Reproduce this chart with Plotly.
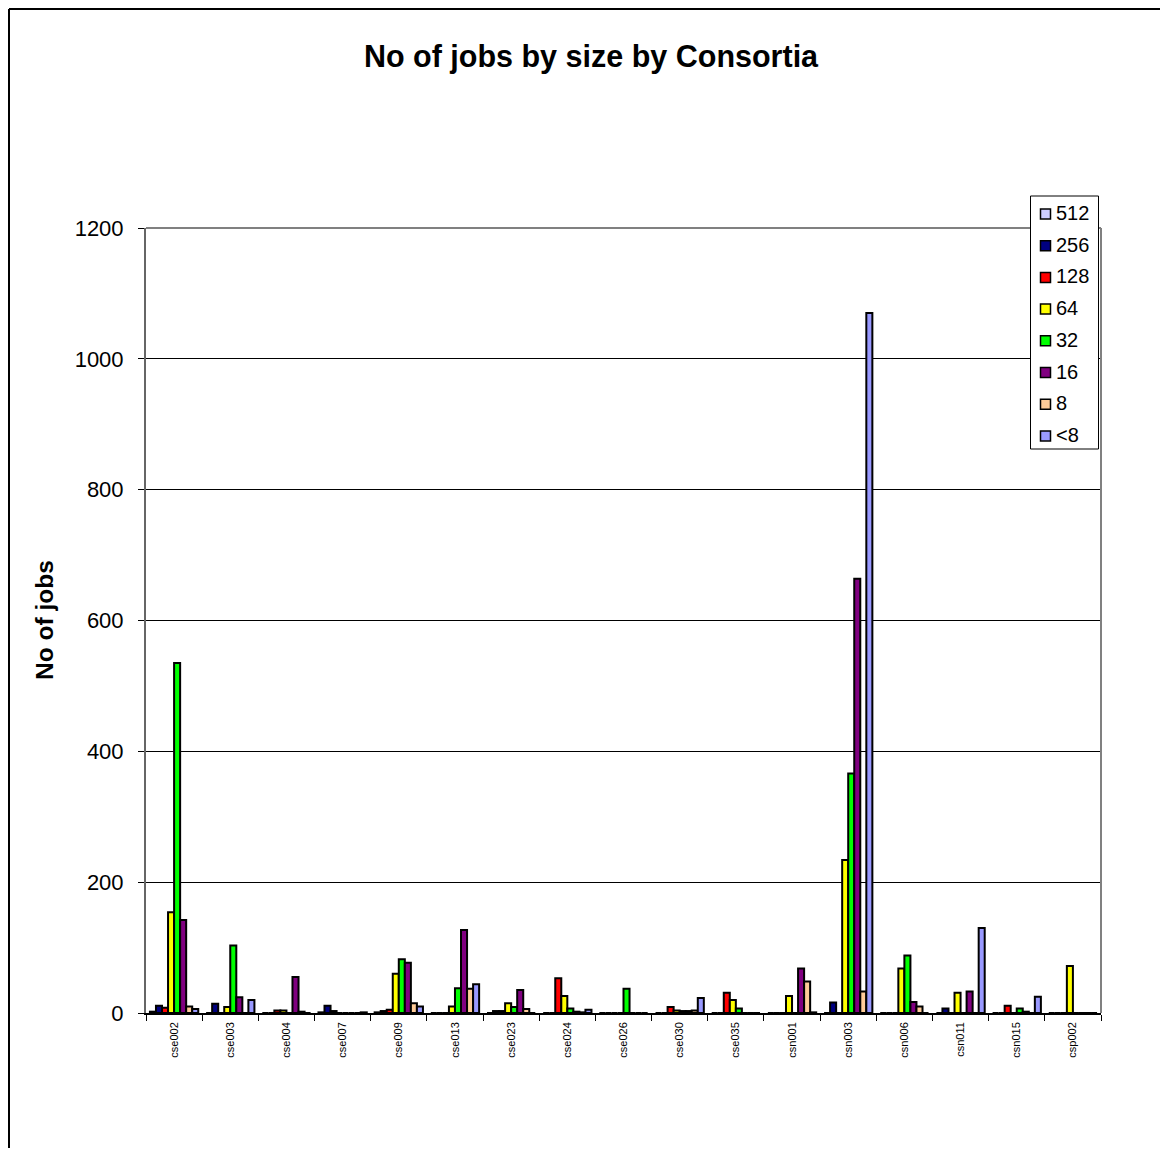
import plotly.graph_objects as go

categories = ["cse002", "cse003", "cse004", "cse007", "cse009", "cse013", "cse023",
              "cse024", "cse026", "cse030", "cse035", "csn001", "csn003", "csn006",
              "csn011", "csn015", "csp002"]

series_names = ["512", "256", "128", "64", "32", "16", "8", "<8"]

s512 = [2, 0, 0, 1, 1, 0, 0, 0, 0, 0, 0, 0, 0, 0, 0, 0, 0]
s256 = [11, 14, 0, 11, 3, 0, 3, 0, 0, 0, 0, 0, 16, 0, 7, 0, 0]
s128 = [8, 0, 4, 3, 5, 0, 3, 53, 0, 9, 31, 0, 0, 0, 0, 11, 0]
s64 = [154, 9, 4, 0, 60, 10, 15, 26, 0, 4, 20, 26, 234, 68, 31, 0, 72]
s32 = [535, 103, 0, 0, 82, 38, 9, 7, 37, 3, 7, 0, 366, 88, 0, 7, 0]
s16 = [142, 24, 55, 0, 77, 127, 35, 2, 0, 3, 0, 68, 664, 17, 33, 2, 0]
s8 = [10, 0, 2, 0, 15, 37, 6, 1, 0, 4, 0, 48, 33, 10, 0, 0, 0]
s_lt8 = [6, 20, 0, 1, 10, 44, 0, 5, 0, 23, 0, 1, 1070, 0, 130, 25, 0]

series_values = [s512, s256, s128, s64, s32, s16, s8, s_lt8]
colors = ["#CCCCFF", "#000080", "#FF0000", "#FFFF00", "#00FF00", "#800080", "#FFCC99", "#9999FF"]

FONT = "Arial, 'Liberation Sans', sans-serif"

# page body has an 8px margin; figure is sized/offset to compensate
OFF = 8
W, H = 1152, 1140
# plot area in page pixels
L, R, T, B = 146, 1101, 228, 1013


def px_x(p):
    return (p - L) / (R - L)


def px_y(p):
    return (B - p) / (B - T)


fig = go.Figure()
for name, vals, col in zip(series_names, series_values, colors):
    fig.add_trace(go.Bar(
        x=categories, y=vals, name=name, showlegend=False,
        marker=dict(color=col, line=dict(color="black", width=2)),
    ))

fig.update_layout(
    width=W, height=H,
    margin=dict(l=L - OFF, r=W - (R - OFF), t=T - OFF, b=H - (B - OFF), pad=0),
    paper_bgcolor="white", plot_bgcolor="white",
    barmode="group", bargap=0.14, bargroupgap=0,
    font=dict(family=FONT, color="black"),
    title=dict(text="<b>No of jobs by size by Consortia</b>",
               font=dict(size=30.5, family=FONT, color="black"),
               x=(591 - OFF) / W, xanchor="center", xref="container",
               y=1 - (56 - OFF) / H, yanchor="middle", yref="container"),
    showlegend=False,
)

fig.update_xaxes(
    type="category", showline=True, linecolor="black", linewidth=1.5,
    ticks="outside", tickson="boundaries", ticklen=6, tickcolor="black",
    tickangle=-90, tickfont=dict(size=11, family=FONT, color="black"),
    ticklabelstandoff=3,
    showgrid=False, mirror=False,
)
fig.update_yaxes(
    range=[0, 1200], dtick=200, tick0=0,
    showline=True, linecolor="#666666", linewidth=2,
    ticks="outside", ticklen=6, tickcolor="black",
    tickfont=dict(size=22, family=FONT, color="black"),
    ticklabelstandoff=10,
    showgrid=True, gridcolor="black", gridwidth=1,
    zeroline=False,
)

# plot area border (top and right in grey)
fig.add_shape(type="line", xref="paper", yref="paper", x0=0, x1=1, y0=1, y1=1,
              line=dict(color="#808080", width=2), layer="above")
fig.add_shape(type="line", xref="paper", yref="paper", x0=1, x1=1, y0=0, y1=1,
              line=dict(color="#808080", width=2), layer="above")

# outer chart border (only left and top edges are visible in the frame)
fig.add_shape(type="line", xref="paper", yref="paper",
              x0=px_x(OFF + 1), x1=px_x(OFF + 1), y0=px_y(OFF + 1), y1=px_y(OFF + H + 20),
              line=dict(color="black", width=2), layer="above")
fig.add_shape(type="line", xref="paper", yref="paper",
              x0=px_x(OFF + 1), x1=px_x(OFF + W + 20), y0=px_y(OFF + 1), y1=px_y(OFF + 1),
              line=dict(color="black", width=2), layer="above")

# y-axis title
fig.add_annotation(text="<b>No of jobs</b>", xref="paper", yref="paper",
                   x=px_x(44), y=px_y(620), textangle=-90, showarrow=False,
                   xanchor="center", yanchor="middle",
                   font=dict(size=24.5, family=FONT, color="black"))

# legend box (Excel-style)
LG_L, LG_R, LG_T, LG_B = 1030.5, 1098.5, 196, 449
fig.add_shape(type="rect", xref="paper", yref="paper",
              x0=px_x(LG_L), x1=px_x(LG_R), y0=px_y(LG_B), y1=px_y(LG_T),
              line=dict(color="black", width=1), fillcolor="white", layer="above")
for i, (name, col) in enumerate(zip(series_names, colors)):
    cy = 213 + 31.7 * i
    fig.add_shape(type="rect", xref="paper", yref="paper",
                  x0=px_x(1040.5), x1=px_x(1050.5),
                  y0=px_y(cy + 6), y1=px_y(cy - 4),
                  line=dict(color="black", width=1.5), fillcolor=col, layer="above")
    fig.add_annotation(text=name, xref="paper", yref="paper",
                       x=px_x(1054), y=px_y(cy), showarrow=False,
                       xanchor="left", yanchor="middle",
                       font=dict(size=20, family=FONT, color="black"))

fig.write_html("out.html")
